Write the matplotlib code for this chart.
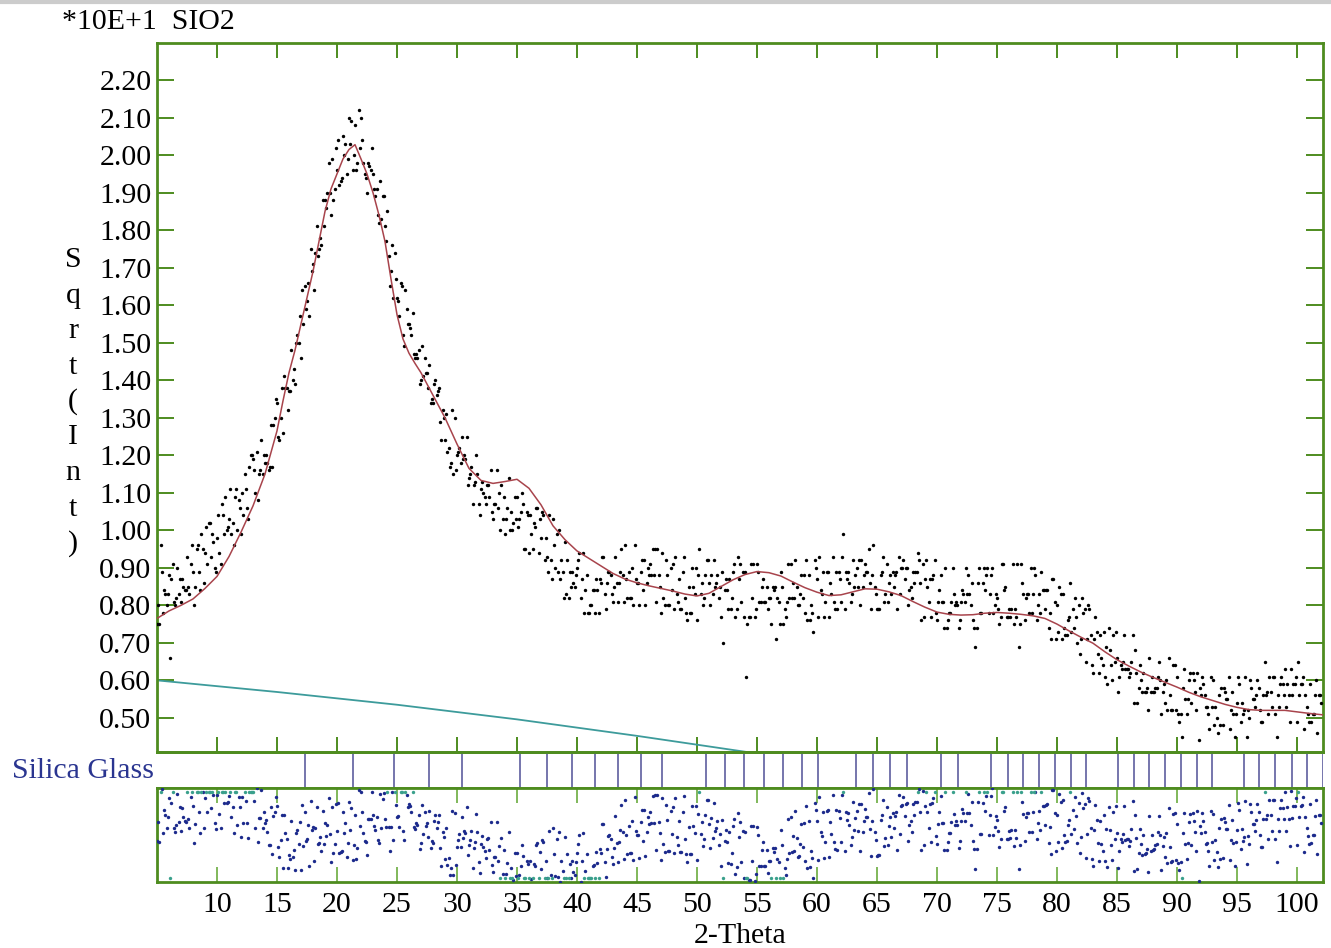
import numpy as np
import matplotlib
matplotlib.use("Agg")
import matplotlib.pyplot as plt
from matplotlib.lines import Line2D

plt.rcParams['font.family'] = ['Liberation Serif', 'DejaVu Serif']

# ---------------- data ----------------
two_theta_start = 5.0
two_theta_step = 0.1
# observed sqrt(intensity) (units of *10E+1), x100, one row per degree 2-theta
obs_sqrt_int_x100 = [
    75, 80, 75, 96, 89, 78, 84, 83, 80, 83,          # 5
    88, 66, 87, 91, 81, 80, 82, 90, 83, 87,          # 6
    81, 87, 85, 84, 84, 93, 85, 83, 91, 96,          # 7
    89, 80, 85, 95, 96, 89, 84, 99, 95, 86,          # 8
    94, 101, 91, 102, 102, 93, 99, 97, 90, 89,       # 9
    98, 104, 94, 91, 107, 104, 99, 109, 100, 101,    # 10
    103, 111, 99, 102, 96, 109, 111, 100, 108, 106,  # 11
    99, 110, 104, 115, 111, 106, 103, 117, 120, 120, # 12
    119, 116, 110, 121, 108, 115, 116, 124, 115, 120,# 13
    118, 120, 118, 116, 117, 128, 117, 128, 130, 135,# 14
    134, 125, 124, 130, 138, 126, 141, 138, 138, 132,# 15
    137, 137, 148, 140, 143, 139, 150, 152, 150, 157,# 16
    146, 164, 155, 165, 159, 161, 166, 157, 175, 169,# 17
    171, 164, 174, 181, 173, 175, 178, 176, 188, 181,# 18
    188, 186, 190, 198, 190, 184, 199, 188, 191, 202,# 19
    196, 204, 192, 193, 194, 205, 200, 203, 195, 199,# 20
    210, 203, 209, 196, 200, 208, 196, 198, 212, 202,# 21
    210, 204, 198, 195, 194, 190, 198, 197, 196, 202,# 22
    195, 191, 189, 191, 184, 182, 193, 183, 189, 189,# 23
    181, 177, 185, 173, 165, 169, 176, 162, 174, 167,# 24
    162, 161, 157, 166, 165, 152, 149, 164, 159, 155,# 25
    155, 154, 152, 158, 147, 146, 147, 146, 148, 139,# 26
    140, 149, 141, 146, 142, 142, 138, 144, 134, 135,# 27
    134, 139, 140, 136, 137, 138, 129, 124, 132, 130,# 28
    124, 131, 121, 122, 117, 118, 132, 115, 130, 116,# 29
    120, 121, 122, 118, 125, 119, 120, 119, 125, 112,# 30
    114, 115, 117, 107, 112, 113, 120, 115, 107, 104,# 31
    111, 113, 110, 109, 107, 112, 112, 109, 116, 105,# 32
    103, 107, 107, 116, 106, 110, 100, 112, 103, 109,# 33
    99, 103, 106, 114, 100, 105, 100, 102, 109, 103, # 34
    109, 101, 103, 105, 110, 107, 95, 95, 105, 104,  # 35
    94, 104, 99, 95, 102, 101, 106, 106, 94, 103,    # 36
    98, 105, 104, 92, 98, 93, 89, 104, 92, 87,       # 37
    103, 96, 90, 99, 89, 100, 87, 92, 89, 82,        # 38
    97, 83, 92, 82, 89, 85, 89, 86, 85, 88,          # 39
    90, 92, 94, 82, 87, 94, 78, 84, 88, 78,          # 40
    78, 80, 80, 84, 84, 78, 87, 84, 78, 87,          # 41
    86, 93, 93, 83, 79, 86, 89, 89, 88, 83,          # 42
    81, 85, 93, 86, 81, 86, 89, 95, 88, 81,          # 43
    96, 87, 82, 89, 82, 82, 90, 80, 96, 87,          # 44
    86, 86, 80, 89, 92, 84, 92, 80, 86, 90,          # 45
    88, 91, 88, 95, 88, 95, 81, 95, 88, 85,          # 46
    78, 94, 82, 80, 92, 88, 80, 80, 90, 84,          # 47
    91, 79, 93, 83, 81, 87, 79, 79, 89, 93,          # 48
    82, 78, 76, 85, 78, 78, 90, 85, 83, 90,          # 49
    76, 88, 95, 83, 86, 80, 82, 88, 92, 92,          # 50
    86, 80, 88, 83, 92, 85, 86, 88, 82, 85,          # 51
    77, 89, 70, 84, 87, 84, 79, 87, 79, 82,          # 52
    89, 91, 77, 79, 93, 87, 91, 81, 89, 77,          # 53
    89, 61, 75, 77, 77, 91, 82, 91, 77, 79,          # 54
    91, 89, 81, 81, 85, 87, 81, 81, 85, 79,          # 55
    82, 82, 75, 85, 84, 85, 71, 82, 81, 75,          # 56
    89, 85, 75, 79, 77, 81, 91, 82, 91, 82,          # 57
    86, 82, 92, 85, 80, 80, 83, 88, 82, 88,          # 58
    78, 92, 76, 88, 76, 80, 78, 73, 92, 90,          # 59
    87, 77, 93, 84, 83, 89, 77, 81, 89, 89,          # 60
    77, 86, 83, 93, 81, 79, 89, 79, 89, 87,          # 61
    81, 93, 99, 79, 89, 87, 89, 86, 81, 83,          # 62
    92, 85, 88, 90, 85, 92, 80, 92, 85, 88,          # 63
    91, 89, 89, 95, 86, 79, 88, 96, 85, 83,          # 64
    79, 79, 79, 88, 89, 93, 81, 83, 91, 81,          # 65
    86, 88, 83, 89, 85, 88, 89, 79, 93, 83,          # 66
    90, 90, 92, 87, 90, 90, 80, 84, 85, 82,          # 67
    89, 86, 89, 89, 94, 92, 86, 76, 91, 77,          # 68
    87, 92, 85, 81, 87, 77, 87, 88, 92, 78,          # 69
    76, 81, 84, 88, 81, 81, 74, 90, 74, 76,          # 70
    78, 78, 81, 90, 83, 80, 81, 80, 74, 76,          # 71
    81, 84, 83, 81, 90, 83, 88, 83, 80, 86,          # 72
    76, 74, 69, 74, 86, 90, 78, 78, 86, 90,          # 73
    84, 88, 90, 78, 83, 88, 90, 78, 80, 83,          # 74
    82, 79, 75, 77, 91, 91, 84, 85, 77, 77,          # 75
    79, 77, 79, 91, 75, 79, 77, 91, 69, 75,          # 76
    91, 86, 83, 76, 82, 83, 83, 78, 90, 78,          # 77
    83, 90, 88, 76, 80, 83, 78, 89, 84, 84,          # 78
    79, 84, 84, 74, 78, 71, 87, 87, 81, 71,          # 79
    80, 73, 85, 83, 71, 83, 74, 72, 72, 76,          # 80
    77, 86, 73, 79, 74, 82, 77, 70, 80, 67,          # 81
    71, 82, 78, 79, 65, 71, 80, 79, 72, 64,          # 82
    62, 71, 77, 73, 67, 62, 72, 66, 64, 73,          # 83
    61, 69, 59, 74, 68, 64, 60, 72, 65, 73,          # 84
    66, 57, 61, 64, 63, 65, 72, 63, 63, 63,          # 85
    61, 62, 65, 72, 54, 68, 62, 54, 58, 64,          # 86
    60, 57, 62, 57, 57, 58, 52, 66, 57, 61,          # 87
    57, 57, 58, 58, 61, 65, 60, 51, 57, 59,          # 88
    54, 60, 52, 66, 56, 52, 52, 64, 64, 52,          # 89
    61, 51, 49, 51, 45, 58, 63, 55, 51, 55,          # 90
    60, 62, 54, 62, 60, 57, 52, 62, 44, 58,          # 91
    56, 61, 59, 56, 53, 53, 51, 47, 61, 53,          # 92
    60, 48, 53, 50, 46, 56, 48, 58, 48, 58,          # 93
    57, 55, 55, 61, 47, 52, 57, 51, 45, 51,          # 94
    54, 61, 59, 49, 54, 51, 52, 61, 45, 52,          # 95
    50, 60, 58, 55, 55, 53, 56, 60, 58, 52,          # 96
    49, 49, 56, 65, 56, 57, 51, 61, 57, 53,          # 97
    61, 61, 51, 45, 56, 53, 59, 61, 59, 56,          # 98
    63, 53, 59, 56, 49, 63, 56, 59, 59, 61,          # 99
    49, 65, 56, 59, 59, 61, 47, 56, 53, 51,          # 100
    49, 59, 49, 51, 51, 56, 60, 46, 56, 56,          # 101
    54,                                              # 102
]

# calculated profile (red line)
fit_two_theta = [5, 6, 7, 8, 9, 10, 11, 12, 13, 14, 15, 15.5, 16, 16.5, 17, 17.5,
                 18, 18.5, 19, 19.5, 20, 20.5, 21, 21.5, 22, 22.5, 23, 23.5, 24,
                 24.5, 25, 25.5, 26, 26.5, 27, 28, 29, 30, 31, 32, 33, 34, 35, 36, 37,
                 38, 39, 40, 41, 42, 43, 44, 45, 46, 47, 48, 49, 50, 51, 52, 53,
                 54, 55, 56, 57, 58, 59, 60, 61, 62, 63, 64, 65, 66, 67, 68, 69,
                 70, 71, 72, 73, 74, 75, 76, 77, 78, 79, 80, 81, 82, 83, 84, 85,
                 86, 87, 88, 89, 90, 91, 92, 93, 94, 95, 96, 97, 98, 99, 100, 101,
                 102.17]
fit_sqrt_int = [0.765, 0.785, 0.800, 0.817, 0.845, 0.877, 0.930, 0.995, 1.065, 1.150,
                1.265, 1.345, 1.420, 1.480, 1.550, 1.620, 1.690, 1.770, 1.850, 1.910,
                1.950, 1.990, 2.015, 2.028, 1.990, 1.950, 1.900, 1.840, 1.770, 1.670,
                1.575, 1.510, 1.472, 1.445, 1.420, 1.360, 1.300, 1.230, 1.165, 1.133, 1.125,
                1.130, 1.136, 1.112, 1.068, 1.012, 0.975, 0.945, 0.925, 0.905, 0.885,
                0.870, 0.860, 0.852, 0.845, 0.838, 0.830, 0.825, 0.832, 0.850, 0.868,
                0.882, 0.890, 0.887, 0.878, 0.862, 0.847, 0.835, 0.826, 0.828, 0.836,
                0.844, 0.843, 0.836, 0.826, 0.810, 0.795, 0.782, 0.776, 0.774, 0.775,
                0.779, 0.781, 0.779, 0.776, 0.772, 0.765, 0.750, 0.732, 0.715, 0.699,
                0.676, 0.655, 0.638, 0.622, 0.608, 0.595, 0.582, 0.568, 0.556, 0.546,
                0.536, 0.528, 0.522, 0.520, 0.520, 0.520, 0.516, 0.512, 0.508]

# background (teal line)
bkg_two_theta = [5, 15, 25, 35, 45, 55, 65, 80, 102.17]
bkg_sqrt_int = [0.600, 0.569, 0.535, 0.496, 0.452, 0.405, 0.355, 0.28, 0.16]

# Silica Glass reference line positions (2-theta)
silica_glass_sticks = [17.33, 21.31, 24.75, 27.69, 30.39, 35.25, 37.47, 39.61, 41.53,
                       43.44, 45.36, 47.11, 50.73, 52.33, 53.92, 55.56, 57.14, 58.73,
                       60.11, 63.22, 64.64, 66.08, 67.47, 70.33, 71.78, 74.47, 75.89,
                       77.14, 78.53, 79.83, 81.14, 82.39, 85.11, 86.42, 87.69, 89.00,
                       90.31, 91.64, 92.94, 95.58, 96.86, 98.17, 99.56, 100.86, 102.14]

x_ticks = list(range(10, 101, 5))
y_ticks = [0.50, 0.60, 0.70, 0.80, 0.90, 1.00, 1.10, 1.20, 1.30, 1.40, 1.50, 1.60,
           1.70, 1.80, 1.90, 2.00, 2.10, 2.20]

# ---------------- derived ----------------
obs_y = np.array(obs_sqrt_int_x100) / 100.0
obs_x = two_theta_start + two_theta_step * np.arange(len(obs_y))
resid = obs_y - np.interp(obs_x, fit_two_theta, fit_sqrt_int)

# ---------------- styling ----------------
W, H = 1331, 948
GREEN = '#4e8c1f'
LGREEN = '#80b85a'
FS = 21.5
XLIM = (5.0, 102.17)

fig = plt.figure(figsize=(W / 100, H / 100), dpi=100)
fig.patch.set_facecolor('white')

left, right = 157, 1323
ax = fig.add_axes([left / W, 1 - 752 / H, (right - left) / W, (752 - 43) / H])
ax_s = fig.add_axes([left / W, 1 - 788 / H, (right - left) / W, 36 / H])
ax_r = fig.add_axes([left / W, 1 - 882 / H, (right - left) / W, 94 / H])

# main panel
ax.scatter(obs_x, obs_y, s=6, c='black', marker='o', linewidths=0, zorder=3)
ax.plot(fit_two_theta, fit_sqrt_int, color='#a8444c', lw=1.1, zorder=4)
ax.plot(bkg_two_theta, bkg_sqrt_int, color='#3d9b9b', lw=1.3, zorder=2)
ax.set_xlim(*XLIM)
ax.set_ylim(0.409, 2.299)
ax.set_xticks(x_ticks)
ax.set_yticks(y_ticks)
ax.set_yticklabels([f'{v:.2f}' for v in y_ticks])
ax.tick_params(axis='x', direction='in', top=True, bottom=True, labelbottom=False,
               length=11, width=1.4, color=GREEN)
ax.tick_params(axis='y', direction='in', left=True, right=True, length=12,
               width=1.4, color=GREEN, labelsize=FS, pad=4)
for sp in ax.spines.values():
    sp.set_color(GREEN)
    sp.set_linewidth(2)

# stick panel
ax_s.vlines(silica_glass_sticks, 0, 1, color='#6a6aa6', lw=1.3)
ax_s.set_xlim(*XLIM)
ax_s.set_ylim(0, 1)
ax_s.set_xticks([])
ax_s.set_yticks([])
ax_s.spines['left'].set_visible(False)
ax_s.spines['right'].set_visible(False)
for k in ('top', 'bottom'):
    ax_s.spines[k].set_color(GREEN)
    ax_s.spines[k].set_linewidth(2)
ax_s.patch.set_alpha(0)

# residual panel
lim = 0.12
inside = np.abs(resid) <= lim
ax_r.scatter(obs_x[inside], resid[inside], s=6, c='#1c2a8c', linewidths=0, zorder=3)
ax_r.scatter(obs_x[~inside], np.clip(resid[~inside], -0.11, 0.11), s=6,
             c='#3aa08c', linewidths=0, zorder=3)
ax_r.set_xlim(*XLIM)
ax_r.set_ylim(-lim, lim)
ax_r.set_xticks(x_ticks)
ax_r.set_xticklabels([str(t) for t in x_ticks])
ax_r.set_yticks([])
ax_r.tick_params(axis='x', direction='in', top=True, bottom=True, length=11,
                 width=1.4, color=LGREEN, labelsize=FS, pad=7)
for sp in ax_r.spines.values():
    sp.set_color(GREEN)
    sp.set_linewidth(2)

# texts
fig.text(62 / W, 1 - 22 / H, '*10E+1  SIO2', fontsize=FS, ha='left', va='center')
fig.text(12 / W, 1 - 771 / H, 'Silica Glass', fontsize=FS, ha='left', va='center',
         color='#2a3590')
fig.text(740 / W, 1 - 936 / H, '2-Theta', fontsize=FS, ha='center', va='center')
for i, ch in enumerate('Sqrt(Int)'):
    fig.text(73 / W, 1 - (267 + 35.5 * i) / H, ch, fontsize=FS, ha='center',
             va='baseline')

# thin grey rule at the very top
fig.add_artist(Line2D([0, 1], [1 - 2 / H, 1 - 2 / H], color='#cccccc', lw=3))

fig.savefig('out.png', dpi=100)
